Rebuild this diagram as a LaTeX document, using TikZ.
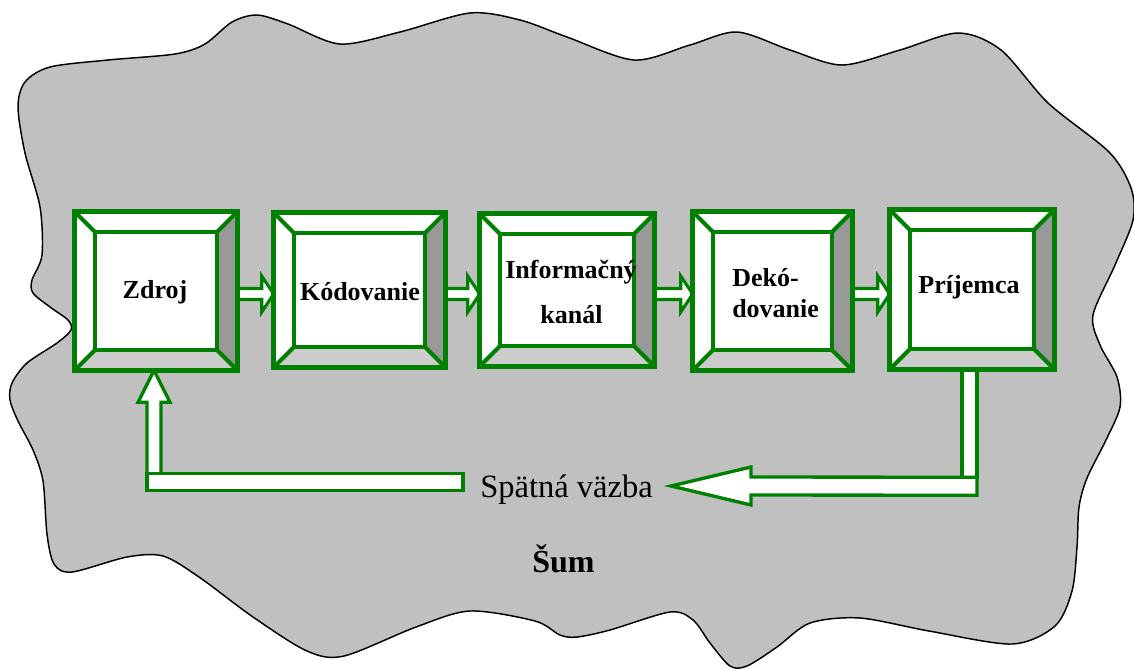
\documentclass[tikz,border=0pt]{standalone}
\usepackage{fontspec}
\setmainfont{Liberation Serif}
\usetikzlibrary{calc,fit}

\definecolor{boxgreen}{HTML}{008000}
\definecolor{cloudgray}{HTML}{C0C0C0}
\definecolor{bevdark}{HTML}{999999}
\definecolor{bevlight}{HTML}{CCCCCC}

\tikzset{
  frameline/.style={draw=boxgreen, line width=3.4pt, line join=miter},
  innerline/.style={draw=boxgreen, line width=3pt},
  blockarr/.style={draw=boxgreen, fill=white, line width=2.3pt, line join=miter},
  fbline/.style={draw=boxgreen, fill=white, line width=2.5pt, line join=miter},
  cloudline/.style={draw=black, fill=cloudgray, line width=1.1pt},
  boxarea/.style={inner sep=0pt, draw=none},
  boxlabel/.style={font=\fontsize{19.5pt}{23pt}\selectfont\bfseries, inner sep=0pt},
  plainlabel/.style={font=\fontsize{24.4pt}{28pt}\selectfont, inner sep=0pt},
  noiselabel/.style={font=\fontsize{24pt}{28pt}\selectfont\bfseries, inner sep=0pt},
}

% invisible node covering a block: name, left, top, right, bottom
\newcommand\blockarea[5]{%
  \coordinate (#1-nw) at (#2,#3);
  \coordinate (#1-se) at (#4,#5);
  \node[boxarea, fit=(#1-nw)(#1-se)] (#1) {};
}

% bevelled frame drawn over a block node
\newcommand\drawbevel[1]{%
  \fill[white] (#1.north west) rectangle (#1.south east);
  \fill[bevdark] (#1.north east) -- (#1.south east) -- ($(#1.south east)+(-20,-20)$)
    -- ($(#1.north east)+(-20,20)$) -- cycle;
  \fill[bevlight] (#1.south west) -- (#1.south east) -- ($(#1.south east)+(-20,-20)$)
    -- ($(#1.south west)+(20,-20)$) -- cycle;
  \draw[innerline] ($(#1.north west)+(20,20)$) rectangle ($(#1.south east)+(-20,-20)$);
  \draw[innerline] (#1.north west) -- ($(#1.north west)+(20,20)$)
    (#1.north east) -- ($(#1.north east)+(-20,20)$)
    (#1.south east) -- ($(#1.south east)+(-20,-20)$)
    (#1.south west) -- ($(#1.south west)+(20,-20)$);
  \draw[frameline] (#1.north west) rectangle (#1.south east);
}

% hollow block arrow from one block to the next
\newcommand\flowarrow[2]{%
  \draw[blockarr] ($(#1.east |- flowrow)+(0,-5.5)$) -- ($(#2.west |- flowrow)+(-12,-5.5)$)
    -- ++(0,-12.5) -- (#2.west |- flowrow) -- ($(#2.west |- flowrow)+(-12,18)$)
    -- ++(0,-12.5) -- ($(#1.east |- flowrow)+(0,5.5)$) -- cycle;
}

\begin{document}
\begin{tikzpicture}[x=0.75pt, y=-0.75pt]
\useasboundingbox (0,0) rectangle (1134,668);

% noise cloud
\draw[cloudline] plot[smooth cycle, tension=0.5] coordinates {
  (25,82) (50,67) (108,60) (175,54) (205,44) (232,22) (257,15) (288,24)
  (340,44) (400,32) (470,13) (520,20) (567,37) (634,60) (690,45) (737,32)
  (790,50) (842,65) (900,50) (958,33) (1001,50) (1048,103) (1109,152)
  (1131,188) (1133,220) (1115,265) (1093,315) (1100,345) (1117,377)
  (1120,407) (1106,440) (1087,478) (1079,507) (1077,547) (1072,591)
  (1055,626) (1012,644) (929,631) (860,618) (810,623) (777,647) (747,666)
  (730,666) (710,643) (693,620) (670,612) (610,630) (577,637) (560,635)
  (535,621) (470,611) (416,627) (344,656) (307,651) (253,617) (199,577)
  (163,556) (127,557) (72,572) (54,564) (47,534) (43,481) (33,450)
  (18,421) (10,400) (12,383) (27,363) (57,343) (71,330) (68,320) (50,307)
  (33,293) (32,280) (42,255) (40,207) (25,153) (18,107)
};

% block areas
\blockarea{zdroj}{75}{212}{237}{370}
\blockarea{kod}{274}{213}{445}{367}
\blockarea{kanal}{480}{214}{654}{366}
\blockarea{dekod}{693}{212}{852}{370}
\blockarea{prij}{890}{210}{1054}{369}

\coordinate (flowrow) at (0,294);

% feedback label
\node[plainlabel, anchor=base west] (spat) at (480,497) {Spätná väzba};

% forward arrows
\flowarrow{zdroj}{kod}
\flowarrow{kod}{kanal}
\flowarrow{kanal}{dekod}
\flowarrow{dekod}{prij}

% feedback loop
\coordinate (rc) at ($(prij.south)+(-2.5,117)$);
\coordinate (fbtip) at ($(spat.base east)+(18,-11)$);
\coordinate (lc) at ($(zdroj.south)+(-2,112)$);
\coordinate (fbtail) at ($(spat.base west)+(-17,-15)$);

\draw[fbline] ($(prij.south)+(-10,0)$) rectangle ($(rc)+(7.5,-9)$);
\draw[fbline] (fbtip) -- ++(80,-19) -- ++(0,10) -- ($(rc)+(7.5,-9)$)
  -- ($(rc)+(7.5,9)$) -- ($(fbtip)+(80,9)$) -- ++(0,10) -- cycle;

\draw[fbline] ($(zdroj.south)+(-2,0)$) -- ++(16,32) -- ++(-9,0)
  -- ($(lc)+(7,-8.5)$) -- ($(lc)+(-7,-8.5)$) -- ($(zdroj.south)+(-9,32)$)
  -- ++(-9,0) -- cycle;
\draw[fbline] ($(lc)+(-7,-8.5)$) rectangle ($(fbtail)+(0,8.5)$);

% bevelled blocks
\drawbevel{zdroj}
\drawbevel{kod}
\drawbevel{kanal}
\drawbevel{dekod}
\drawbevel{prij}

% block labels
\node[boxlabel, anchor=base] (tzdroj) at (155,298) {Zdroj};
\node[boxlabel, anchor=base] (tkod) at (360,300) {Kódovanie};
\node[boxlabel, anchor=base] (tkanal1) at (571,278) {Informačný};
\node[boxlabel, anchor=base] (tkanal2) at (571.5,323) {kanál};
\node[boxlabel, anchor=base west] (tdekod1) at (732,286) {Dekó-};
\node[boxlabel, anchor=base west] (tdekod2) at (732,317) {dovanie};
\node[boxlabel, anchor=base] (tprij) at (969,293) {Príjemca};

% noise label
\node[noiselabel, anchor=base west] (sum) at (532,572) {Šum};
\end{tikzpicture}
\end{document}
